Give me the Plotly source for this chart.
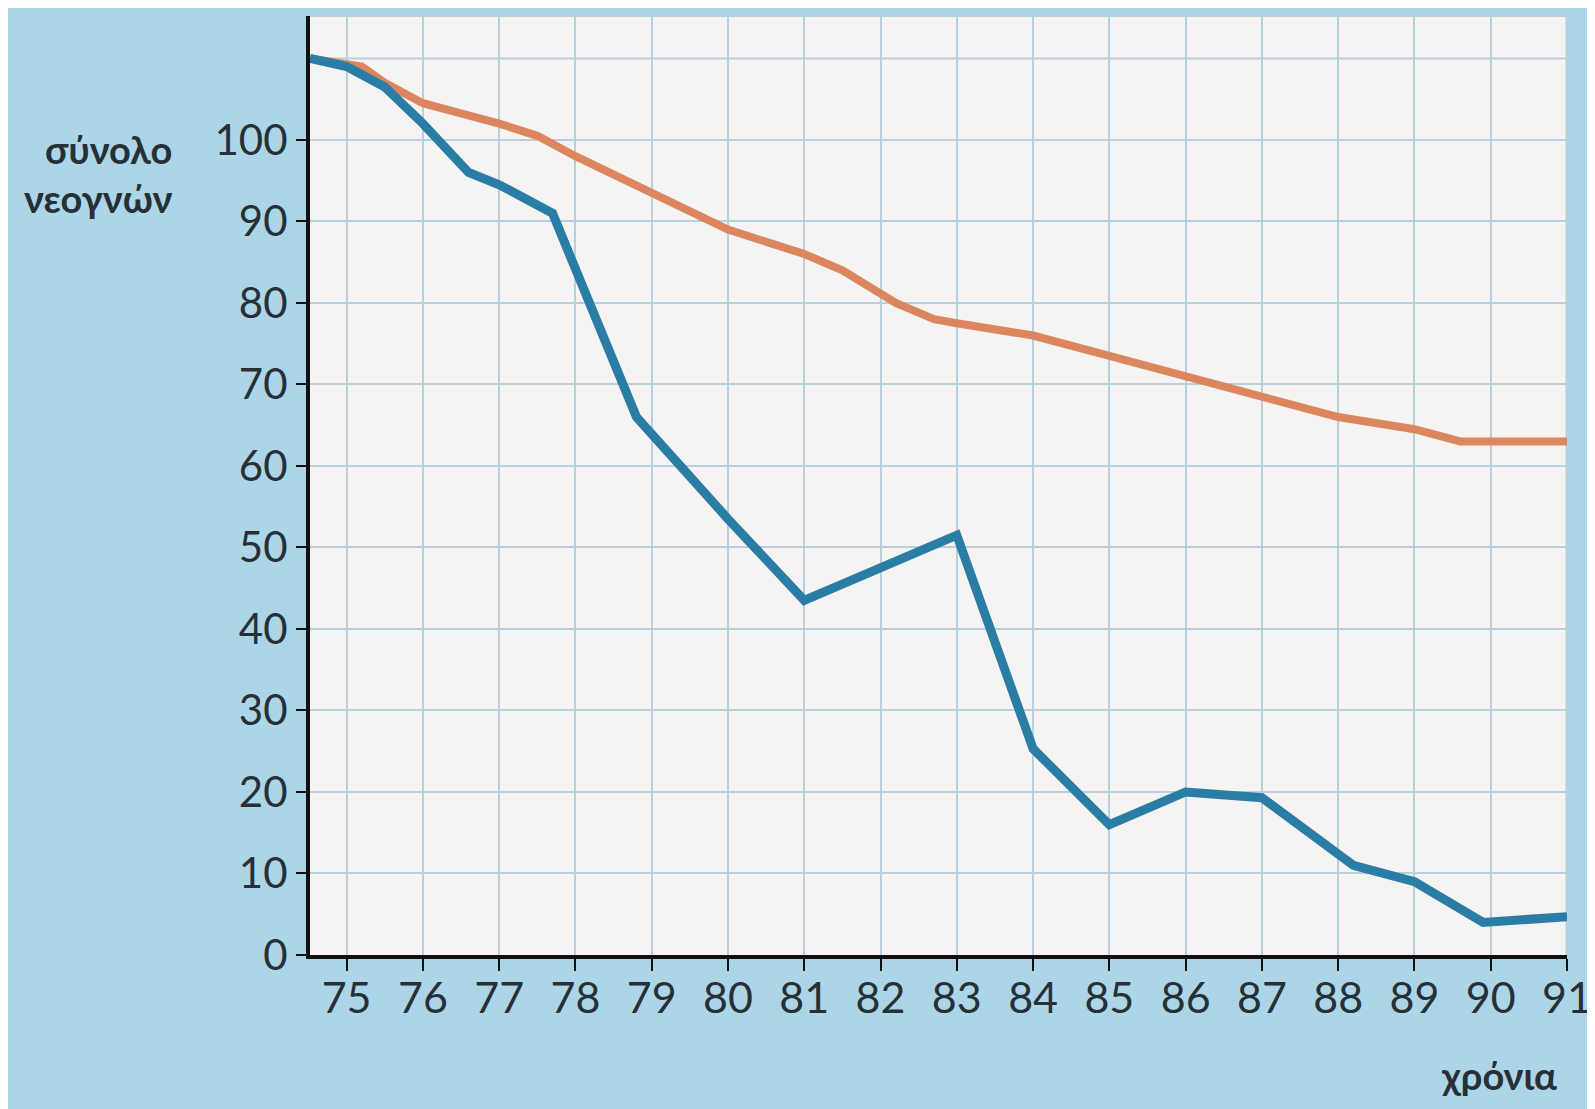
import plotly.graph_objects as go

# Data (years as fractional positions along the axis)
orange_years = [74.52, 75.2, 75.5, 76.0, 77.0, 77.5, 78.0, 79.0, 79.5, 80.0, 81.0, 81.5,
                82.2, 82.7, 83.0, 84.0, 85.0, 86.0, 87.0, 88.0, 89.0, 89.6, 90.0, 91.0]
orange_values = [110, 109, 107, 104.5, 102, 100.5, 98, 93.5, 91, 89, 86, 84,
                 80, 78, 77.5, 76, 73.5, 71, 68.5, 66, 64.5, 63, 63, 63]

blue_years = [74.52, 75.0, 75.5, 76.0, 76.6, 77.0, 77.7, 78.8, 80.0, 81.0, 83.0,
              84.0, 85.0, 86.0, 87.0, 88.2, 89.0, 89.9, 91.0]
blue_values = [110, 109, 106.5, 102, 96, 94.5, 91, 66, 53.5, 43.5, 51.5,
               25.3, 16, 20, 19.3, 11, 9, 4, 4.7]

x_ticks = list(range(75, 92))
x_tick_labels = [str(v) for v in x_ticks]
y_ticks = list(range(0, 101, 10))
y_tick_labels = [str(v) for v in y_ticks]

y_title = "σύνολο<br>νεογνών"
x_title = "χρόνια"

fig = go.Figure()
fig.add_trace(go.Scatter(x=orange_years, y=orange_values, mode="lines",
                         line=dict(color="#dc8660", width=8), showlegend=False))
fig.add_trace(go.Scatter(x=blue_years, y=blue_values, mode="lines",
                         line=dict(color="#2a7ea6", width=9), showlegend=False))

grid_color = "#b6d0dd"
font_family = "Lato, 'DejaVu Sans', sans-serif"
text_color = "#263036"

fig.update_layout(
    width=1595, height=1109,
    margin=dict(l=302, r=36, t=8, b=162),
    paper_bgcolor="#acd6e8",
    plot_bgcolor="#f5f4f3",
    font=dict(family=font_family, color=text_color),
    xaxis=dict(
        range=[74.52, 91.0],
        tickmode="array", tickvals=x_ticks, ticktext=x_tick_labels,
        showgrid=True, gridcolor=grid_color, gridwidth=2,
        showline=True, linecolor="#111111", linewidth=4,
        ticks="outside", ticklen=12, tickwidth=2, tickcolor="#111111",
        ticklabelstandoff=-10,
        tickfont=dict(size=43, color=text_color),
        zeroline=False,
    ),
    yaxis=dict(
        range=[0, 115.2],
        tickmode="array", tickvals=y_ticks, ticktext=y_tick_labels,
        showgrid=True, gridcolor=grid_color, gridwidth=2,
        showline=True, linecolor="#111111", linewidth=4,
        ticks="outside", ticklen=10, tickwidth=2, tickcolor="#111111",
        tickfont=dict(size=42, color=text_color),
        zeroline=False,
    ),
)

# extra gridline at 110 and border lines at top / right
fig.add_hline(y=110, line=dict(color=grid_color, width=2), layer="below")
fig.add_shape(type="line", xref="paper", yref="paper", x0=0, x1=1, y0=1, y1=1,
              line=dict(color=grid_color, width=2), layer="below")
fig.add_shape(type="line", xref="paper", yref="paper", x0=1, x1=1, y0=0, y1=1,
              line=dict(color=grid_color, width=3), layer="below")

fig.add_annotation(text="<b>" + y_title + "</b>", xref="paper", yref="paper", x=-0.108, y=0.832,
                   xanchor="right", yanchor="middle", showarrow=False, align="right",
                   font=dict(size=38, color=text_color, family=font_family))
fig.add_annotation(text="<b>" + x_title + "</b>", xref="paper", yref="paper", x=0.994, y=-0.128,
                   xanchor="right", yanchor="middle", showarrow=False,
                   font=dict(size=38, color=text_color, family=font_family))

fig.write_html("out.html")
